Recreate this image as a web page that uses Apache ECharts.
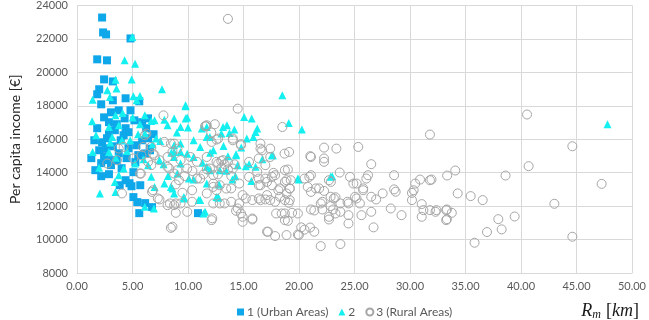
<!DOCTYPE html>
<html>
<head>
<meta charset="utf-8">
<script src="https://cdn.jsdelivr.net/npm/echarts@6/dist/echarts.min.js"></script>
<style>html,body{margin:0;padding:0;background:#fff;}#chart{width:649px;height:320px;}</style>
</head>
<body>
<div id="chart"></div>
<script>
// Series names
const seriesNames = ['1 (Urban Areas)', '2', '3 (Rural Areas)'];

// Cluster 1 (Urban Areas): [Rm km, per capita income €]
const urbanData = [
  [2.26,23280],[2.35,22390],[2.62,22270],[4.82,22030],[1.82,20780],[2.70,20720],[2.44,19580],[3.23,19460],
  [2.00,18990],[1.82,18690],[2.18,18090],[5.61,18270],[3.06,17610],[2.44,17310],[4.29,17250],[4.38,16660],
  [2.88,17020],[3.58,16900],[4.64,16420],[5.17,17130],[5.87,17020],[3.94,15940],[2.70,16060],[3.23,15580],
  [2.00,15340],[2.44,14990],[3.76,15160],[4.64,15460],[5.35,15640],[5.87,15940],[6.40,16060],[2.88,14750],
  [2.18,14570],[3.06,14450],[4.02,14270],[5.08,14030],[2.18,13790],[2.88,13910],[3.85,13250],[4.73,13370],
  [4.91,13190],[5.70,13250],[5.08,12540],[5.43,12240],[5.61,11580],[6.14,12180],[6.76,11940],[10.90,11580],
  [5.52,15050],[4.38,13550],[1.56,15940],[1.82,16660],[3.41,16540],[4.20,16240],[2.62,15460],[3.58,14750],
  [4.47,14870],[6.23,16660],[3.76,17730],[3.23,18330],[4.82,17730],[2.88,16300],[2.26,15820],[5.26,14630],
  [6.58,15340],[1.29,14870],[6.40,17250],[4.38,18450],[1.65,14150],[6.90,16300],[6.55,15440],[6.14,15150]
];

// Cluster 2
const mixedData = [
  [4.99,22110],[4.29,20720],[5.23,20520],[4.93,19580],[3.47,19560],[3.56,19030],[2.73,18930],[5.08,18570],
  [5.67,18590],[7.66,18990],[1.41,18370],[2.97,18520],[5.37,18330],[9.78,17970],[1.36,17070],[3.47,17430],
  [4.11,17570],[5.02,17300],[6.11,17430],[6.99,17130],[7.87,17170],[9.93,17300],[1.71,16240],[2.88,16730],
  [3.76,16840],[5.67,16900],[6.69,17090],[8.16,16840],[9.33,16730],[11.69,16140],[10.51,15940],[13.16,16730],
  [1.41,15240],[3.17,16140],[4.05,15940],[4.79,15940],[6.11,16340],[7.13,16040],[8.75,15640],[9.33,15240],
  [11.10,15540],[12.28,15340],[2.88,15240],
  [2.06,12760],[3.47,12850],[3.41,13450],[3.76,13850],[4.20,14250],[5.23,14550],[6.11,11960],[6.93,11860],
  [6.69,13750],[7.43,14750],[6.99,13150],[7.87,13350],[8.46,13150],[8.75,12760],[9.05,13950],[9.63,12550],
  [10.08,13650],[10.96,12360],[11.54,11660],[11.69,13350],[10.51,14940],[9.33,14550],[11.69,14350],[12.86,14150],
  [12.57,12550],[8.75,14940],[6.40,14450],
  [18.50,18630],[15.06,17330],[15.74,17240],[19.08,16970],[20.26,16580],[16.24,16640],[16.09,16440],[15.89,16140],
  [15.30,16040],[14.18,16580],[13.51,16840],[13.74,16380],[13.01,16340],[11.98,16140],[11.69,16730],[17.56,15040],
  [14.33,15040],[13.60,14990],[14.33,15100],[17.65,15040],[14.48,14450],[15.21,14390],[16.09,14350],[15.50,14510],
  [13.45,14110],[14.27,13790],[15.71,13510],[19.99,13590],[22.85,13750],[12.72,12500],[11.98,14150],
  [47.80,16900],
  [9.78,18030],[9.78,17240],[8.75,17240],[11.25,16640],[8.75,15240],[9.93,15140],[9.33,15740],[11.40,11560],
  [8.60,13050],[9.63,12460],[11.10,12360],[12.72,12550],[22.99,13790],[19.90,13650],
  [2.00,14300],[3.00,15800],[3.50,14900],[4.50,15300],[5.50,16300],[6.00,14800],[6.80,15700],[7.50,15900],
  [7.80,14500],[8.20,13800],[8.50,15200],[9.00,16400],[10.00,16700],[10.50,13600],[11.30,14600],[12.00,15200],
  [12.80,13300],[13.20,15600],[14.00,13600],[14.80,15500],[16.70,14800]
];

// Cluster 3 (Rural Areas)
const ruralData = [
  [13.60,23200],
  [7.79,17430],[12.42,16900],[11.63,16780],[6.11,16240],[7.87,15840],[6.84,15140],[5.96,15540],[3.76,15440],
  [4.20,15540],[8.60,15240],[12.10,16400],
  [2.73,14550],[3.61,14750],[4.05,12760],[5.76,13950],[5.81,15040],[6.69,14450],[6.76,12850],[7.43,12400],
  [6.99,15040],[8.37,12160],[8.90,11600],[8.46,10700],[9.93,11660],[10.37,12260],[12.19,11270],[9.33,12160],
  [10.37,12950],[10.81,13650],[8.16,14350],[9.19,13550],[8.75,13950],[12.28,12160],[12.86,12160],[13.30,12160],
  [11.69,12760],[12.28,13150],[12.72,14550],[13.16,14750],
  [14.48,17830],[18.50,16730],[16.53,15740],[16.53,15440],[17.41,15440],[19.11,15240],[18.70,15140],[14.77,15700],
  [14.04,16040],[12.72,16040],[12.13,15840],[11.69,16840],
  [12.13,11160],[17.21,10470],[17.85,10210],[18.88,10270],[19.99,10270],[21.96,9610],[23.73,9730],[20.20,10730],
  [20.50,10590],[21.38,10470],[14.92,11060],[15.80,11200],[14.77,11560],[17.94,11560],[18.73,11160],[19.00,11120],
  [19.38,11600],[18.73,11560],[22.70,11200],[24.46,10960],[26.72,10730],[24.46,11460],[25.63,11460],[26.51,11660],
  [28.27,11860],[29.24,11460],[21.08,11800],[21.38,11740],[22.10,11800],[23.07,11800],[23.73,11660],[22.10,12260],
  [22.85,12560],[23.29,12530],[23.73,12160],[24.37,12260],[25.05,12560],[25.49,12160],[26.51,12560],[26.95,12400],
  [27.54,12760],[28.57,13000],[28.71,12860],[30.18,12790],[30.18,12360],[31.06,12120],[31.21,11760],[31.06,11360],
  [31.80,11760],[32.38,11760],[33.26,11760],[33.26,11160],[31.80,13550],[30.91,13590],[30.47,13350],[30.33,12950],
  [28.57,13850],[26.22,13850],[26.07,13650],[25.78,12950],[24.60,13750],[24.90,13350],[25.20,13350],[26.51,14510],
  [23.67,14010],[22.87,13450],[22.70,13550],[22.26,12910],[21.08,12850],[20.79,13150],[20.50,13650],[19.26,13550],
  [18.73,13450],[17.85,13850],[17.12,13450],[16.53,13250],[16.38,13650],[18.14,12950],[18.88,12760],[19.17,13050],
  [18.29,12560],[19.17,12360],[19.08,12200],[17.41,12360],[16.97,12400],[16.53,12360],[17.85,12260],[15.80,12360],
  [14.92,12660],[14.62,12160],[13.89,12260],[13.45,13050],[12.86,13250],[12.28,13350],[14.62,13350],[15.50,13750],
  [16.24,14050],[17.70,13990],[18.73,14150],[19.00,14190],[21.08,13850],[21.08,14940],[22.26,14850],[22.26,14650],
  [14.33,11720],[14.92,11360],[15.80,11260],
  [31.80,16280],[25.34,15540],[23.37,15440],[22.26,15500],[21.02,14990],
  [40.55,17480],[44.63,15580],[40.69,14390],[38.61,13830],[47.27,13330],[43.01,12140],[44.63,10170],[33.35,13830],
  [34.08,14130],[31.94,13590],[34.30,12760],[35.47,12600],[36.55,12360],[32.30,11660],[33.33,11800],[33.77,11600],
  [33.33,11220],[37.96,11220],[39.43,11380],[38.26,10610],[36.94,10450],[35.82,9810],
  [19.90,10300],[21.00,10720],[18.44,11560],[19.90,11560],[22.85,12000],[22.70,11360],[23.29,11560],
  [23.14,12460],[24.46,12160],[21.96,12160],[21.52,13060],[21.82,13060],[25.78,13060],[25.19,12460],[17.56,13250],
  [18.29,13060],[19.17,13060],[17.12,12660],[18.73,12360],[17.56,13750],[18.88,13550],[20.93,13750],
  [11.54,16780],[12.57,15980],[14.04,15940],[14.77,15640],[16.68,15340],[17.41,14940],[16.38,14850],[8.46,15740],
  [9.05,15440],[8.16,14940],[9.33,14750],[10.22,14940],[10.81,14650],[11.69,14940],[12.57,14650],[13.60,14650],
  [15.50,14650],[14.04,14250],[16.97,14450],[11.98,14250],[9.93,14250],
  [8.31,14250],[11.10,13650],[12.28,13850],[12.57,12950],[13.89,13060],[15.21,12460],[16.38,12460],[16.38,13250],
  [16.97,13650],[14.48,11860],[8.60,10770],[8.90,12160],[17.12,10470],[6.25,16340],[6.69,15540],[8.75,15740],
  [5.08,14850],[6.40,14650],[7.43,14750],[9.05,14150],[5.67,13950],[6.84,12950],[7.28,12460],[8.16,12060],
  [8.75,12060],[13.00,14300],[13.30,14500],[13.60,14200],[13.00,14700],[12.70,13900],[13.90,13800],[14.20,14500],
  [11.40,13900],[11.70,14200],[10.40,14100],[9.70,13800],[8.90,13300],[9.50,12800]
];

const xMin = 0, xMax = 50, xStep = 5;
const yMin = 8000, yMax = 24000, yStep = 2000;

const chart = echarts.init(document.getElementById('chart'), null, {renderer: 'canvas'});
const labelFont = 'Lato, "Open Sans", sans-serif';
const gridColor = '#D9D9D9';
const serif = '"Liberation Serif", "DejaVu Serif", serif';

chart.setOption({
  animation: false,
  backgroundColor: '#ffffff',
  title: {
    text: '{i|R}{s|m} {u|[}{i|km}{u|]}',
    right: 5,
    top: 296,
    textStyle: {
      fontWeight: 'normal',
      rich: {
        i: {fontFamily: serif, fontStyle: 'italic', fontWeight: 'normal', fontSize: 18, color: '#1a1a1a'},
        s: {fontFamily: serif, fontStyle: 'italic', fontWeight: 'normal', fontSize: 12, color: '#1a1a1a', padding: [8, 0, 0, 0]},
        u: {fontFamily: serif, fontWeight: 'normal', fontSize: 18, color: '#1a1a1a'}
      }
    }
  },
  legend: {
    left: 232,
    top: 301,
    itemWidth: 7,
    itemHeight: 7,
    itemGap: 10,
    textStyle: {fontFamily: labelFont, fontSize: 12, color: '#595959', padding: [0, 0, 0, -2]},
    data: seriesNames
  },
  grid: {left: 67, right: 14, top: 5, bottom: 47},
  xAxis: {
    type: 'value',
    min: xMin, max: xMax, interval: xStep,
    axisLine: {show: true, lineStyle: {color: gridColor}},
    axisTick: {show: false},
    splitLine: {show: true, lineStyle: {color: gridColor}},
    axisLabel: {fontFamily: labelFont, fontSize: 11, color: '#595959', margin: 8,
      formatter: v => v.toFixed(2)}
  },
  yAxis: {
    type: 'value',
    min: yMin, max: yMax, interval: yStep,
    name: 'Per capita income [€]',
    nameLocation: 'middle',
    nameGap: 55,
    nameTextStyle: {fontFamily: labelFont, fontSize: 14, color: '#262626'},
    axisLine: {show: true, lineStyle: {color: gridColor}},
    axisTick: {show: false},
    splitLine: {show: true, lineStyle: {color: gridColor}},
    axisLabel: {fontFamily: labelFont, fontSize: 11, color: '#595959', margin: 9,
      formatter: v => String(v)}
  },
  series: [
    {
      name: seriesNames[0], type: 'scatter', symbol: 'rect', symbolSize: 8,
      itemStyle: {color: '#0EA7EA', opacity: 1},
      data: urbanData
    },
    {
      name: seriesNames[1], type: 'scatter', symbol: 'triangle', symbolSize: 8,
      itemStyle: {color: '#14F0F0', opacity: 1},
      data: mixedData
    },
    {
      name: seriesNames[2], type: 'scatter', symbol: 'circle', symbolSize: 9,
      itemStyle: {color: 'rgba(255,255,255,0)', borderColor: '#A6A6A6', borderWidth: 1, opacity: 1},
      data: ruralData
    }
  ]
});
</script>
</body>
</html>
